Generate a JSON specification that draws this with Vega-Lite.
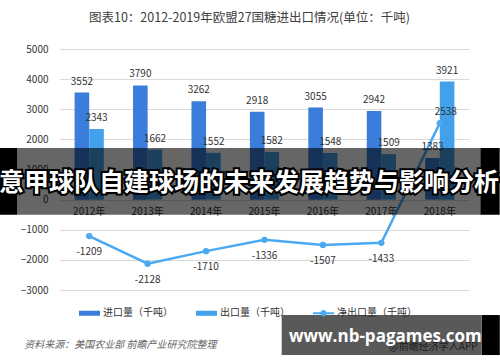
{
  "$schema": "https://vega.github.io/schema/vega-lite/v6.json",
  "width": 409,
  "height": 241,
  "autosize": {"type": "none"},
  "padding": {"left": 60, "top": 49, "right": 31, "bottom": 72},
  "background": "white",
  "config": {
    "font": "Noto Sans CJK SC",
    "view": {"stroke": null},
    "axis": {"labelFont": "Noto Sans CJK SC", "labelOverlap": false},
    "axisY": {"labelOverlap": false, "tickCount": 9},
    "legend": {"labelFont": "Noto Sans CJK SC"}
  },
  "title": {
    "text": "图表10：2012-2019年欧盟27国糖进出口情况(单位：千吨)",
    "fontSize": 12.5,
    "fontWeight": "normal",
    "color": "#404040",
    "anchor": "middle",
    "dx": -15,
    "offset": 20
  },
  "datasets": {
    "main": [
      {"year": "2012年", "series": "进口量（千吨）", "value": 3552},
      {"year": "2013年", "series": "进口量（千吨）", "value": 3790},
      {"year": "2014年", "series": "进口量（千吨）", "value": 3262},
      {"year": "2015年", "series": "进口量（千吨）", "value": 2918},
      {"year": "2016年", "series": "进口量（千吨）", "value": 3055},
      {"year": "2017年", "series": "进口量（千吨）", "value": 2942},
      {"year": "2018年", "series": "进口量（千吨）", "value": 1383},
      {"year": "2012年", "series": "出口量（千吨）", "value": 2343},
      {"year": "2013年", "series": "出口量（千吨）", "value": 1662},
      {"year": "2014年", "series": "出口量（千吨）", "value": 1552},
      {"year": "2015年", "series": "出口量（千吨）", "value": 1582},
      {"year": "2016年", "series": "出口量（千吨）", "value": 1548},
      {"year": "2017年", "series": "出口量（千吨）", "value": 1509},
      {"year": "2018年", "series": "出口量（千吨）", "value": 3921},
      {"year": "2012年", "series": "净出口量（千吨）", "value": -1209},
      {"year": "2013年", "series": "净出口量（千吨）", "value": -2128},
      {"year": "2014年", "series": "净出口量（千吨）", "value": -1710},
      {"year": "2015年", "series": "净出口量（千吨）", "value": -1336},
      {"year": "2016年", "series": "净出口量（千吨）", "value": -1507},
      {"year": "2017年", "series": "净出口量（千吨）", "value": -1433},
      {"year": "2018年", "series": "净出口量（千吨）", "value": 2538}
    ]
  },
  "layer": [
    {
      "data": {"name": "main"},
      "transform": [{"filter": "datum.series !== '净出口量（千吨）'"}],
      "mark": {"type": "bar"},
      "encoding": {
        "x": {
          "field": "year", "type": "nominal", "sort": null,
          "scale": {"paddingInner": 0, "paddingOuter": 0},
          "axis": {"orient": "bottom", "offset": -90.4, "domain": false, "ticks": false, "tickSize": 0, "labelPadding": 7, "labelFontSize": 10, "labelColor": "#333333", "labelAngle": 0, "title": null, "grid": false}
        },
        "xOffset": {
          "field": "series", "type": "nominal",
          "sort": ["进口量（千吨）", "出口量（千吨）"],
          "scale": {"paddingInner": 0, "paddingOuter": 1.087}
        },
        "y": {
          "field": "value", "type": "quantitative",
          "scale": {"domain": [-3000, 5000], "nice": false, "zero": false},
          "axis": {"values": [-3000, -2000, -1000, 0, 1000, 2000, 3000, 4000, 5000], "format": "d", "labelOverlap": false, "domain": false, "ticks": false, "tickSize": 0, "labelPadding": 12, "labelFontSize": 10, "labelColor": "#333333", "gridColor": "#d9d9d9", "title": null}
        },
        "color": {
          "field": "series", "type": "nominal",
          "scale": {"domain": ["进口量（千吨）", "出口量（千吨）", "净出口量（千吨）"], "range": ["#3B7DDB", "#43A1EC", "#4AA9F1"]},
          "legend": {
            "orient": "none", "legendX": 19, "legendY": 253.5, "direction": "horizontal",
            "title": null, "labelFontSize": 10, "labelColor": "#333333", "labelOffset": 3,
            "columnPadding": 23, "symbolSize": 441,
            "encode": {
              "symbols": {
                "update": {
                  "shape": {"signal": "datum.value === '净出口量（千吨）' ? 'M-1,-0.1H1V0.1H-1Z M-0.3,0A0.3,0.3 0 1,1 0.3,0A0.3,0.3 0 1,1 -0.3,0Z' : 'M-1,-0.24H1V0.24H-1Z'"},
                  "fill": {"scale": "color", "field": "value"},
                  "strokeWidth": {"value": 0},
                  "opacity": {"value": 1}
                }
              }
            }
          }
        }
      }
    },
    {
      "data": {"name": "main"},
      "transform": [{"filter": "datum.series === '净出口量（千吨）'"}],
      "mark": {"type": "line", "strokeWidth": 2.5, "point": {"filled": true, "size": 40}},
      "encoding": {
        "x": {"field": "year", "type": "nominal", "sort": null},
        "y": {"field": "value", "type": "quantitative"},
        "color": {"field": "series", "type": "nominal"}
      }
    },
    {
      "data": {"name": "main"},
      "transform": [{"filter": "datum.series !== '净出口量（千吨）'"}],
      "mark": {"type": "text", "baseline": "middle", "dy": -11, "fontSize": 10, "color": "#333333"},
      "encoding": {
        "x": {"field": "year", "type": "nominal", "sort": null},
        "xOffset": {"field": "series", "type": "nominal", "sort": ["进口量（千吨）", "出口量（千吨）"]},
        "y": {"field": "value", "type": "quantitative"},
        "text": {"field": "value", "type": "nominal"}
      }
    },
    {
      "data": {"name": "main"},
      "transform": [{"filter": "datum.series === '净出口量（千吨）' && datum.value < 0"}],
      "mark": {"type": "text", "baseline": "middle", "dy": 16, "fontSize": 10, "color": "#333333"},
      "encoding": {
        "x": {"field": "year", "type": "nominal", "sort": null},
        "y": {"field": "value", "type": "quantitative"},
        "text": {"field": "value", "type": "nominal"}
      }
    },
    {
      "data": {"name": "main"},
      "transform": [{"filter": "datum.series === '净出口量（千吨）' && datum.value > 0"}],
      "mark": {"type": "text", "baseline": "middle", "dy": -11, "dx": 6, "fontSize": 10, "color": "#333333"},
      "encoding": {
        "x": {"field": "year", "type": "nominal", "sort": null},
        "y": {"field": "value", "type": "quantitative"},
        "text": {"field": "value", "type": "nominal"}
      }
    },
    {
      "data": {"values": [{"note": "资料来源：美国农业部 前瞻产业研究院整理"}]},
      "mark": {"type": "text", "align": "left", "baseline": "middle", "dx": -65, "fontSize": 10, "fontStyle": "italic", "color": "#666666"},
      "encoding": {
        "x": {"datum": "2012年"},
        "y": {"datum": -4827},
        "text": {"field": "note"}
      }
    },
    {
      "data": {"values": [{"note": "@前瞻经济学人APP"}]},
      "mark": {"type": "text", "align": "left", "baseline": "middle", "dx": 8, "fontSize": 10, "color": "#555555"},
      "encoding": {
        "x": {"datum": "2017年"},
        "y": {"datum": -4893},
        "text": {"field": "note"}
      }
    },
    {
      "data": {"values": [{"band": "banner"}]},
      "mark": {"type": "rect", "color": "black", "opacity": 0.6, "width": 464, "xOffset": -15.5},
      "encoding": {
        "x": {"datum": "2015年"},
        "y": {"datum": 1713},
        "y2": {"datum": -500}
      }
    },
    {
      "data": {"values": [{"band": "left"}]},
      "mark": {"type": "rect", "color": "black", "opacity": 1, "width": 17, "xOffset": -80.7},
      "encoding": {
        "x": {"datum": "2012年"},
        "y": {"datum": 1713},
        "y2": {"datum": -500}
      }
    },
    {
      "data": {"values": [{"band": "right"}]},
      "mark": {"type": "rect", "color": "black", "opacity": 1, "width": 19, "xOffset": 50.4},
      "encoding": {
        "x": {"datum": "2018年"},
        "y": {"datum": 1713},
        "y2": {"datum": -500}
      }
    },
    {
      "data": {"values": [{"t": "意甲球队自建球场的未来发展趋势与影响分析"}]},
      "mark": {"type": "text", "align": "center", "baseline": "middle", "dx": -15.5, "fontSize": 25, "fontWeight": "bold", "color": "black", "stroke": "black", "strokeWidth": 4},
      "encoding": {
        "x": {"datum": "2015年"},
        "y": {"datum": 551},
        "text": {"field": "t"}
      }
    },
    {
      "data": {"values": [{"t": "意甲球队自建球场的未来发展趋势与影响分析"}]},
      "mark": {"type": "text", "align": "center", "baseline": "middle", "dx": -15.5, "fontSize": 25, "fontWeight": "bold", "color": "white"},
      "encoding": {
        "x": {"datum": "2015年"},
        "y": {"datum": 551},
        "text": {"field": "t"}
      }
    },
    {
      "data": {"values": [{"band": "wm"}]},
      "mark": {"type": "rect", "color": "black", "opacity": 0.65, "width": 200, "xOffset": 0.3},
      "encoding": {
        "x": {"datum": "2017年"},
        "y": {"datum": -3831},
        "y2": {"datum": -5159}
      }
    },
    {
      "data": {"values": [{"band": "wm-right"}]},
      "mark": {"type": "rect", "color": "black", "opacity": 1, "width": 18, "xOffset": 51},
      "encoding": {
        "x": {"datum": "2018年"},
        "y": {"datum": -3831},
        "y2": {"datum": -5159}
      }
    },
    {
      "data": {"values": [{"t": "www.nb-pagames.com"}]},
      "mark": {"type": "text", "align": "center", "baseline": "middle", "dx": 4, "fontSize": 17, "fontWeight": "bold", "font": "Open Sans", "color": "white"},
      "encoding": {
        "x": {"datum": "2017年"},
        "y": {"datum": -4560},
        "text": {"field": "t"}
      }
    }
  ]
}
